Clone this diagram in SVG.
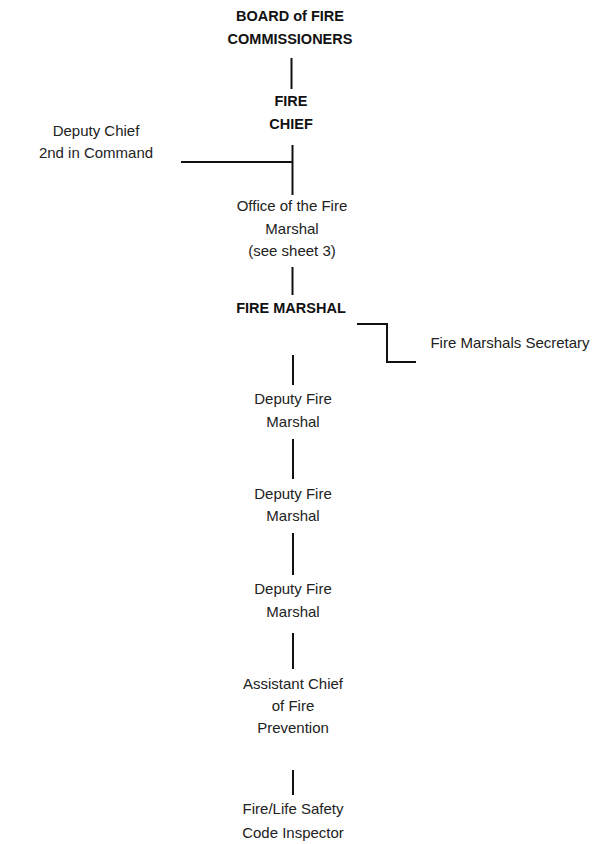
<svg xmlns="http://www.w3.org/2000/svg" width="595" height="844" viewBox="0 0 595 844">
<style>
text{font-family:"Liberation Sans",Arial,sans-serif;font-size:15px;fill:#222;text-anchor:middle;dominant-baseline:central}
.b{font-weight:bold;font-size:14.5px;fill:#111}
.c line,.c polyline{stroke:#111;stroke-width:2;fill:none}
</style>
<rect width="595" height="844" fill="#fff"/>
<g class="c" id="connectors">
<line x1="291.5" y1="58" x2="291.5" y2="89"/>
<line x1="292.5" y1="145" x2="292.5" y2="195"/>
<line x1="181" y1="162" x2="292.5" y2="162"/>
<line x1="292.5" y1="267" x2="292.5" y2="295"/>
<polyline points="357,324 387,324 387,362 416,362"/>
<line x1="293" y1="355" x2="293" y2="385"/>
<line x1="293" y1="439" x2="293" y2="479"/>
<line x1="293" y1="533" x2="293" y2="575"/>
<line x1="293" y1="633" x2="293" y2="669"/>
<line x1="293" y1="770" x2="293" y2="795"/>
</g>
<g id="board"><text class="b" x="290" y="16">BOARD of FIRE</text><text class="b" x="290" y="39">COMMISSIONERS</text></g>
<g id="chief"><text class="b" x="291" y="101">FIRE</text><text class="b" x="291" y="124">CHIEF</text></g>
<g id="deputy-chief"><text x="96" y="130">Deputy Chief</text><text x="96" y="152">2nd in Command</text></g>
<g id="office"><text x="292" y="205">Office of the Fire</text><text x="292" y="228">Marshal</text><text x="292" y="250">(see sheet 3)</text></g>
<g id="fire-marshal"><text class="b" x="291" y="308">FIRE MARSHAL</text></g>
<g id="secretary"><text x="510" y="342">Fire Marshals Secretary</text></g>
<g id="deputy1"><text x="293" y="398">Deputy Fire</text><text x="293" y="421">Marshal</text></g>
<g id="deputy2"><text x="293" y="493">Deputy Fire</text><text x="293" y="515">Marshal</text></g>
<g id="deputy3"><text x="293" y="588">Deputy Fire</text><text x="293" y="611">Marshal</text></g>
<g id="assistant"><text x="293" y="683">Assistant Chief</text><text x="293" y="705">of Fire</text><text x="293" y="727">Prevention</text></g>
<g id="inspector"><text x="293" y="808">Fire/Life Safety</text><text x="293" y="832">Code Inspector</text></g>
</svg>
